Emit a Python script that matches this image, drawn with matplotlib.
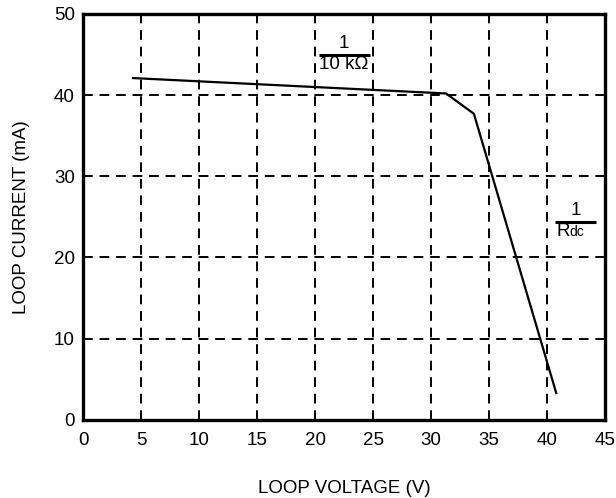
import numpy as np
import matplotlib.pyplot as plt

plt.rcParams['font.family'] = ['Liberation Sans', 'DejaVu Sans']

# loop current vs loop voltage
voltage = [4.3, 31.3, 33.7, 40.8]
current = [42.1, 40.2, 37.7, 3.3]

x_ticks = [0, 5, 10, 15, 20, 25, 30, 35, 40, 45]
y_ticks = [0, 10, 20, 30, 40, 50]

fig = plt.figure(figsize=(6.16, 4.98), dpi=100)
ax = fig.add_axes([0.135, 0.157, 0.847, 0.815])

ax.plot(voltage, current, color='black', lw=1.6)

ax.set_xlim(0, 45)
ax.set_ylim(0, 50)
ax.set_xticks(x_ticks)
ax.set_yticks(y_ticks)
ax.tick_params(length=0, labelsize=13.5, pad=6)
ax.tick_params(axis='x', pad=9)
ax.grid(True, color='black', ls=(0, (5, 3.5)), lw=1.4)
for s in ax.spines.values():
    s.set_linewidth(2.4)

ax.set_xlabel("LOOP VOLTAGE (V)", fontsize=13.5, labelpad=22)
ax.set_ylabel("LOOP CURRENT (mA)", fontsize=13.5, labelpad=17)

# fraction labels for the two slopes
def fraction(x0, x1, y, top, bottom):
    ax.plot([x0, x1], [y, y], color='black', lw=2.2, solid_capstyle='butt')
    xc = (x0 + x1) / 2
    ax.text(xc, y + 0.4, top, ha='center', va='bottom', fontsize=13.5)
    ax.text(xc, y - 0.1, bottom, ha='center', va='top', fontsize=13.5)

fraction(20.3, 24.7, 44.9, "1", "10 k\u03a9")
ax.plot([40.7, 44.2], [24.4, 24.4], color='black', lw=2.2, solid_capstyle='butt')
ax.text(42.45, 24.8, "1", ha='center', va='bottom', fontsize=13.5)
ax.text(40.8, 24.3, "R", ha='left', va='top', fontsize=13.5)
ax.text(41.9, 24.0, "dc", ha='left', va='top', fontsize=10)

fig.savefig("out.png", dpi=100)
